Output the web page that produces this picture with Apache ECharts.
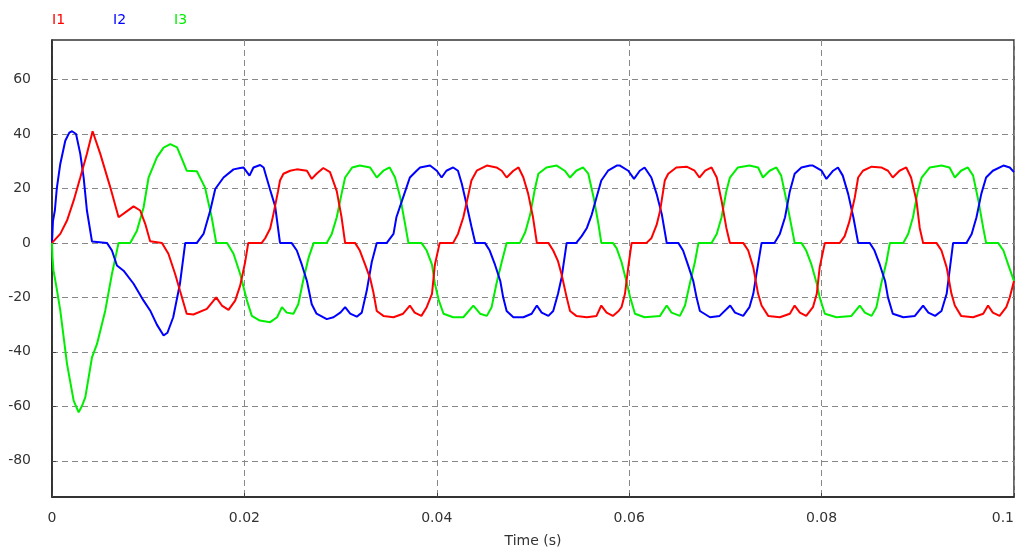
<!DOCTYPE html>
<html>
<head>
<meta charset="utf-8">
<script src="https://cdn.jsdelivr.net/npm/echarts@6/dist/echarts.min.js"></script>
<style>html,body{margin:0;padding:0;background:#fff}#c{width:1016px;height:548px}</style>
</head>
<body>
<div id="c"></div>
<script>
// time in milliseconds, current in A
const i1Time = [0,0.86,1.56,2.25,2.94,3.63,4.22,5.02,6.06,6.92,7.62,8.48,9.17,9.69,10.2,11.43,12.1,12.8,13.3,14.0,14.7,16.1,17.07,17.66,18.35,19.04,19.56,
20.08,20.4,21.8,22.16,22.68,23.0,23.5,23.7,24.06,24.75,25.45,26.5,27.0,27.5,28.2,28.9,29.6,30.1,30.47,31.5,32.0,32.55,33.07,33.4,33.76,34.45,35.5,36.5,37.2,37.7,38.4,38.95,
39.5,39.8,40.3,41.7,42.2,42.76,43.3,43.6,44.15,45.2,46.2,46.75,47.26,47.96,48.5,49.0,49.5,50.0,50.4,51.6,52.1,52.6,52.98,53.5,53.85,54.5,55.6,56.6,57.1,57.65,58.3,58.9,
59.2,59.56,59.9,60.25,61.8,62.3,62.85,63.2,63.7,64.06,64.9,65.97,66.8,67.3,67.9,68.56,69.1,69.6,70.1,70.47,71.85,72.37,72.9,73.4,73.76,74.45,75.66,76.7,77.2,77.74,78.4,
79.1,79.5,79.8,80.34,81.9,82.4,82.9,83.45,83.8,84.3,85.2,86.2,86.9,87.4,88.1,88.8,89.3,89.86,90.2,90.55,91.94,92.46,93.0,93.5,93.85,94.5,95.75,96.8,97.3,97.8,98.5,99.2,99.56,100];
const i1Value = [0,3.3,8.2,15.5,24,32.7,41,32.7,20.4,9.4,11.2,13.4,11.9,7,0.6,0,-4,-11.4,-17.5,-26,-26.3,-24.2,-20,-23,-24.6,-21.2,-15.7,
-7,0,0,1.7,5.3,10.3,19,22.9,25.4,26.5,27,26.5,23.5,25.4,27.5,26,19,9.4,0,0,-2.8,-8,-13,-18,-25,-26.8,-27.3,-26,-23,-25.6,-26.8,-23.6,
-18.7,-8,0,0,3.3,9.4,18,22.9,26.5,28.4,27.7,26.5,24,26.5,27.7,24,18,9.4,0,0,-2.8,-6.7,-11.7,-20,-25,-26.8,-27.3,-26.8,-23,-25.6,-26.8,-25,
-23.6,-18.7,-9,0,0,1.7,6.6,11.6,22.9,25.4,27.7,28,26.5,24,26.5,27.7,24,15.5,5.5,0,0,-2.8,-9,-18.7,-23,-26.8,-27.3,-26,-23,-25.6,-26.8,
-23.6,-18.7,-9,0,0,2.5,8,16.7,24,26.5,28,27.7,26.5,24,26.5,27.7,24,15.5,5.5,0,0,-2.8,-9,-18.7,-23,-26.8,-27.3,-26,-23,-25.6,-26.8,-23.6,-20,-14];

const i2Time = [0,0.1,0.3,0.5,0.86,1.38,1.8,2.08,2.5,2.94,3.29,3.63,4.16,4.3,5.71,6.23,6.75,7.44,8.48,9.52,10.2,10.9,11.6,12.0,12.6,13.3,13.85,15.06,15.75,16.45,16.97,17.83,18.87,19.56,
19.9,20.53,20.94,21.64,22.0,22.3,22.68,23.2,23.7,24.9,25.45,25.97,26.5,27.0,27.5,28.56,29.26,30.0,30.47,31.0,31.68,32.2,32.72,33.24,33.76,34.8,35.5,35.8,36.5,37.2,37.9,
38.26,39.3,40.0,40.5,41.0,41.7,42.2,42.6,43.1,43.6,44.0,45.0,45.5,46.05,46.6,46.9,47.26,47.96,49.0,49.86,50.4,50.9,51.6,52.1,52.6,52.98,53.5,54.5,55.06,55.6,56.1,56.6,57.1,57.8,58.7,
59.04,59.9,60.5,61.1,61.6,62.3,62.85,63.4,63.9,65.1,65.6,66.1,66.66,67.0,67.35,68.4,69.4,70.5,71.0,71.85,72.5,72.9,73.2,73.76,75.1,75.66,76.2,76.7,77.2,77.9,78.8,
79.1,80.0,80.5,81.2,81.7,82.2,82.76,83.3,83.8,85.0,85.5,86.05,86.6,86.9,87.4,88.5,89.7,90.55,91.1,91.8,92.46,93.0,93.67,95.06,95.6,96.1,96.6,97.1,97.8,98.9,99.56,100];
const i2Value = [0,8,12,20,29,37.5,40.5,41,40,32.7,24,11.9,0.5,0,0,-2.8,-8.3,-10.2,-15,-21.2,-24.8,-30,-34,-33,-27.3,-15,0,0,3.3,11.9,19.8,24,27,27.5,
27.7,24.7,27.7,28.6,27.7,24,19.4,13.4,0,0,-2.8,-8,-14,-22.5,-26,-28,-27.3,-25.5,-23.6,-26,-27.1,-25.6,-17.5,-7,0,0,3.3,9.4,16.7,24,26.5,
27.7,28.4,26.5,24,26.5,27.7,26.5,21.7,14,6,0,0,-2.8,-8,-14,-20,-25,-27.3,-27.3,-26,-23,-25.6,-26.8,-25,-18.7,-12.6,0,0,2.5,5.5,10.3,16.7,22.9,26.5,28.4,
28.4,26.5,23.5,26.5,27.7,24,18,10.3,0,0,-2.8,-8,-14,-20,-25,-27.3,-26.8,-23,-25.6,-26.8,-23.6,-18.7,-12,0,0,3.3,9.4,19,25.4,27.7,28.4,
28.4,26.5,23.5,26.5,27.7,24.7,18,9.4,0,0,-2.8,-8,-14,-20,-26,-27.3,-26.8,-23,-25.6,-26.8,-25,-18.7,0,0,3.3,9.4,18,24,26.5,28.4,27.7,26];

const i3Time = [0,0.05,0.15,0.5,0.86,1.56,2.25,2.77,3.1,3.46,4.16,4.68,5.54,6.23,6.92,8.13,8.83,9.52,10.04,10.9,11.6,12.3,13.0,13.6,14.0,15.06,15.9,16.6,17.07,18.2,18.87,19.56,
20.25,20.77,21.6,22.68,23.4,23.9,24.4,25.1,25.6,26.1,26.66,27.2,28.56,29.08,29.6,30.1,30.47,31.2,32.0,33.07,33.76,34.45,35.1,35.66,36.2,36.7,37.05,38.4,
38.95,39.5,39.8,40.2,40.7,41.7,42.76,43.8,44.5,45.2,45.7,46.2,46.75,47.26,48.65,49.2,49.7,50.2,50.56,51.4,52.46,53.3,53.85,54.5,55.2,55.75,56.3,56.8,57.1,58.3,
58.7,59.2,59.7,60.1,60.6,61.6,63.2,63.9,64.4,65.27,65.8,66.3,66.83,67.2,68.56,69.1,69.6,70.1,70.47,71.3,72.5,73.4,73.9,74.6,75.3,75.8,76.35,76.9,77.2,77.9,
78.4,78.95,79.5,79.8,80.34,81.55,83.1,83.97,84.5,85.2,85.7,86.2,86.74,87.1,88.5,89.0,89.5,90.0,90.4,91.25,92.46,93.3,93.85,94.5,95.2,95.75,96.3,96.8,97.1,98.35,98.9,99.4,99.9,100];
const i3Value = [0,-5,-10,-17,-24.8,-44.4,-57.9,-62.2,-60,-56.7,-42,-37.1,-24.8,-11.4,0,0,4.5,13,24,31.4,35,36.3,35.1,30,26.5,26.3,20.4,9.4,0,0,-4,-11.4,
-21,-26.8,-28.5,-29.1,-27.3,-23.6,-25.6,-26,-22.5,-14,-5.6,0,0,3.3,9.4,18,24,27.7,28.4,27.7,24,26.5,27.7,24,16.7,7,0,0,
-2.8,-8,-15,-21,-26,-27.3,-27.3,-23,-26,-26.8,-23.6,-15,-7,0,0,4,10.3,19.9,25.4,27.7,28.4,26.5,24,26.5,27.7,25.4,16.7,7,0,0,
-2,-7,-14,-20,-26,-27.3,-26.8,-23,-25.6,-26.8,-23,-15,-7,0,0,3.3,9.4,19,24,27.7,28.4,27.7,24,26.5,27.7,24.7,15.5,5.5,0,0,
-2.8,-8,-15,-20,-26,-27.3,-26.8,-23,-25.6,-26.8,-23.6,-15,-7,0,0,3.3,9.4,19,24,27.7,28.4,27.7,24,26.5,27.7,24.7,15.5,5.5,0,0,-2.8,-8,-13,-14];

const seriesNames = ['I1', 'I2', 'I3'];
const seriesColors = ['#ff0000', '#0000ff', '#00ee00'];
const yTicks = [-80, -60, -40, -20, 0, 20, 40, 60];

function pairs(t, v) { return t.map((x, i) => [x / 1000, v[i]]); }
const data = [pairs(i1Time, i1Value), pairs(i2Time, i2Value), pairs(i3Time, i3Value)];

const font = 'DejaVu Sans, Verdana, sans-serif';
const chart = echarts.init(document.getElementById('c'), null, {renderer: 'canvas'});
chart.setOption({
  animation: false,
  backgroundColor: '#ffffff',
  legend: {
    left: 42, top: 8, itemWidth: 0, itemHeight: 0, itemGap: 43,
    icon: 'rect',
    selectedMode: false,
    data: seriesNames.map((n, i) => ({name: n, textStyle: {color: seriesColors[i], fontFamily: font, fontSize: 14}}))
  },
  grid: {left: 52, right: 2, top: 40, bottom: 51, show: true, borderColor: '#333', borderWidth: 1.5,
    containLabel: false, outerBoundsMode: 'none'},
  xAxis: {
    type: 'value', min: 0, max: 0.1, interval: 0.02,
    name: 'Time (s)', nameLocation: 'middle', nameGap: 37,
    nameTextStyle: {color: '#333', fontFamily: font, fontSize: 14},
    axisLine: {show: true, onZero: false, lineStyle: {color: '#222', width: 1.5}},
    axisTick: {show: true, inside: true, length: 4, lineStyle: {color: '#444'}},
    axisLabel: {color: '#333', fontFamily: font, fontSize: 14, margin: 14, alignMaxLabel: 'right',
      formatter: v => String(Math.round(v * 1000) / 1000)},
    splitLine: {show: true, lineStyle: {color: '#888', type: [6, 4], width: 1}}
  },
  yAxis: {
    type: 'value', min: -93.3, max: 74.5,
    axisLine: {show: true, onZero: false, lineStyle: {color: '#222', width: 1.5}},
    axisTick: {show: true, inside: true, length: 4, customValues: yTicks, lineStyle: {color: '#444'}},
    axisLabel: {color: '#333', fontFamily: font, fontSize: 14, margin: 21, customValues: yTicks},
    splitLine: {show: true, lineStyle: {color: '#888', type: [6, 4], width: 1}}
  },
  series: seriesNames.map((n, i) => ({
    name: n, type: 'line', data: data[i], showSymbol: false, symbol: 'none',
    lineStyle: {color: seriesColors[i], width: 2}, itemStyle: {color: seriesColors[i]},
    z: 3 - i
  }))
});
</script>
</body>
</html>
